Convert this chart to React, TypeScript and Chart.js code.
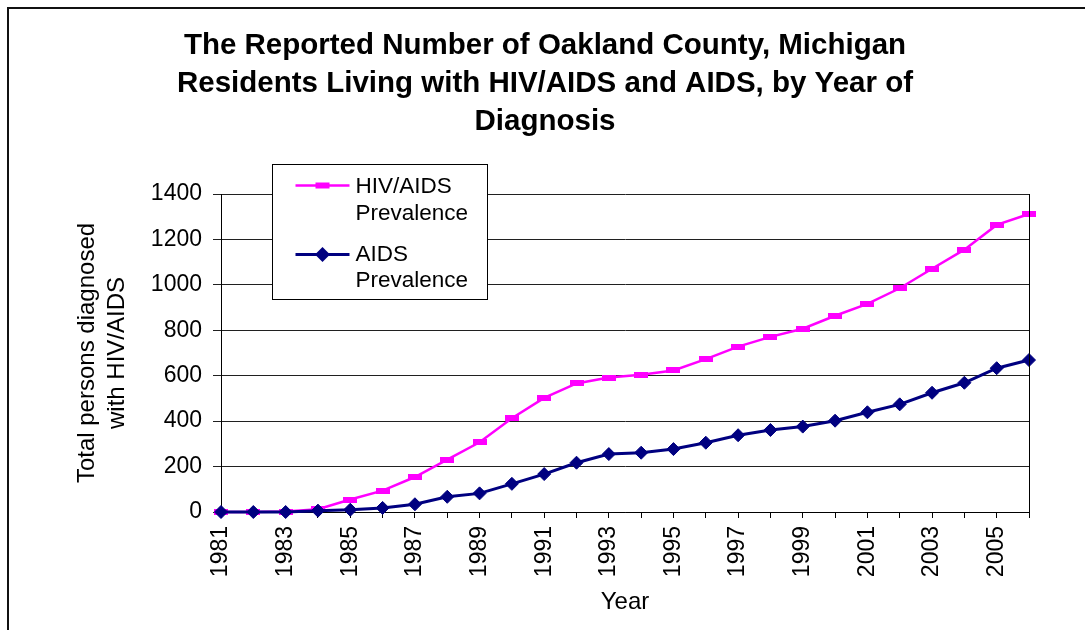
import React, { useEffect, useRef } from 'react';
import { Chart, registerables } from 'chart.js';

Chart.register(...registerables);

const FONT = 'Arial, "Liberation Sans", Helvetica, sans-serif';

const TITLE_LINES = [
  'The Reported Number of Oakland County, Michigan',
  'Residents Living with HIV/AIDS and AIDS, by Year of',
  'Diagnosis',
];
const Y_TITLE_LINES = ['Total persons diagnosed', 'with HIV/AIDS'];
const X_TITLE = 'Year';

const YEARS = [
  '1981', '1982', '1983', '1984', '1985', '1986', '1987', '1988', '1989', '1990',
  '1991', '1992', '1993', '1994', '1995', '1996', '1997', '1998', '1999', '2000',
  '2001', '2002', '2003', '2004', '2005', '2006',
];

const HIV_AIDS_PREVALENCE = [
  0, 0, 2, 12, 55, 94, 154, 231, 307, 413,
  502, 566, 592, 604, 623, 673, 728, 771, 807, 864,
  916, 985, 1071, 1155, 1264, 1312,
];

const AIDS_PREVALENCE = [
  0, 0, 0, 6, 10, 18, 34, 67, 82, 124,
  167, 217, 255, 261, 277, 305, 338, 361, 376, 402,
  439, 474, 525, 569, 633, 669,
];

const HIV_LEGEND_LINES = ['HIV/AIDS', 'Prevalence'];
const AIDS_LEGEND_LINES = ['AIDS', 'Prevalence'];

const Y_MIN = 0;
const Y_MAX = 1400;
const Y_STEP = 200;

const PINK = '#FF00FF';
const NAVY = '#000080';

export default function App() {
  const ref = useRef<HTMLCanvasElement>(null);

  useEffect(() => {
    const canvas = ref.current;
    if (!canvas) return;

    const rectMarker = document.createElement('canvas');
    rectMarker.width = 14;
    rectMarker.height = 6;
    const rc = rectMarker.getContext('2d')!;
    rc.fillStyle = PINK;
    rc.fillRect(0, 0, 14, 6);

    const framePlugin = {
      id: 'framePlugin',
      beforeDraw(chart: any) {
        const { ctx } = chart;
        ctx.save();
        ctx.fillStyle = '#ffffff';
        ctx.fillRect(0, 0, chart.width, chart.height);
        ctx.strokeStyle = '#111111';
        ctx.lineWidth = 2;
        ctx.beginPath();
        ctx.moveTo(8, chart.height + 5);
        ctx.lineTo(8, 8);
        ctx.lineTo(chart.width + 5, 8);
        ctx.stroke();
        ctx.restore();
      },
      afterDraw(chart: any) {
        const { ctx, chartArea } = chart;
        ctx.save();
        // right plot border
        ctx.strokeStyle = '#000000';
        ctx.lineWidth = 1;
        ctx.beginPath();
        const rx = Math.round(chartArea.right) + 0.5;
        ctx.moveTo(rx, chartArea.top);
        ctx.lineTo(rx, chartArea.bottom);
        ctx.stroke();

        // legend box
        const bx = Math.round(chartArea.left) + 51.5;
        const by = Math.round(chartArea.top) - 29.5;
        const bw = 215;
        const bh = 135;
        ctx.fillStyle = '#ffffff';
        ctx.fillRect(bx, by, bw, bh);
        ctx.strokeStyle = '#000000';
        ctx.lineWidth = 1;
        ctx.strokeRect(bx, by, bw, bh);

        const lx0 = bx + 23;
        const lx1 = bx + 77;
        const mx = (lx0 + lx1) / 2;
        const y1 = by + 21;
        const y2 = by + 90;

        // HIV/AIDS entry
        ctx.strokeStyle = PINK;
        ctx.lineWidth = 2.5;
        ctx.beginPath();
        ctx.moveTo(lx0, y1);
        ctx.lineTo(lx1, y1);
        ctx.stroke();
        ctx.fillStyle = PINK;
        ctx.fillRect(mx - 7, y1 - 3, 14, 6);

        // AIDS entry
        ctx.strokeStyle = NAVY;
        ctx.lineWidth = 3;
        ctx.beginPath();
        ctx.moveTo(lx0, y2);
        ctx.lineTo(lx1, y2);
        ctx.stroke();
        ctx.fillStyle = NAVY;
        ctx.beginPath();
        ctx.moveTo(mx - 7.5, y2);
        ctx.lineTo(mx, y2 - 7.5);
        ctx.lineTo(mx + 7.5, y2);
        ctx.lineTo(mx, y2 + 7.5);
        ctx.closePath();
        ctx.fill();

        ctx.fillStyle = '#000000';
        ctx.font = `22.5px ${FONT}`;
        ctx.textAlign = 'left';
        ctx.textBaseline = 'middle';
        const tx = bx + 83;
        HIV_LEGEND_LINES.forEach((t, i) => ctx.fillText(t, tx, y1 + 1 + i * 27));
        AIDS_LEGEND_LINES.forEach((t, i) => ctx.fillText(t, tx, y2 + i * 26));
        ctx.restore();
      },
    };

    const chart = new Chart(canvas, {
      type: 'line',
      data: {
        labels: YEARS,
        datasets: [
          {
            label: 'HIV/AIDS Prevalence',
            data: HIV_AIDS_PREVALENCE,
            borderColor: PINK,
            backgroundColor: PINK,
            borderWidth: 2.5,
            pointStyle: rectMarker as any,
            pointRadius: 5,
            tension: 0,
            clip: false as any,
            order: 1,
          },
          {
            label: 'AIDS Prevalence',
            data: AIDS_PREVALENCE,
            borderColor: NAVY,
            backgroundColor: NAVY,
            borderWidth: 3,
            pointStyle: 'rectRot',
            pointRadius: 6.5,
            pointBorderWidth: 1,
            pointBorderColor: NAVY,
            pointBackgroundColor: NAVY,
            tension: 0,
            clip: false as any,
            order: 0,
          },
        ],
      },
      options: {
        responsive: false,
        animation: false,
        devicePixelRatio: 1,
        layout: { padding: { left: 61, right: 56, top: 0, bottom: 0 } },
        plugins: {
          legend: { display: false },
          tooltip: { enabled: false },
          title: {
            display: true,
            text: TITLE_LINES,
            color: '#000000',
            font: { family: FONT, size: 29.5, weight: 'bold', lineHeight: '38px' as any },
            padding: { top: 27, bottom: 53 },
          },
        },
        scales: {
          x: {
            type: 'category',
            offset: false,
            grid: {
              display: true,
              drawOnChartArea: false,
              drawTicks: true,
              tickLength: 6,
              color: '#000000',
            },
            border: { display: true, color: '#000000', width: 1 },
            ticks: {
              autoSkip: false,
              maxRotation: 90,
              minRotation: 90,
              padding: 8,
              color: '#000000',
              font: { family: FONT, size: 23 },
              callback: function (this: any, value: any, index: number) {
                return index % 2 === 0 ? this.getLabelForValue(value) : '';
              },
            },
            title: {
              display: true,
              text: X_TITLE,
              color: '#000000',
              font: { family: FONT, size: 24, lineHeight: '26px' as any },
              padding: { top: 0, bottom: 15 },
            },
            afterFit(scale: any) {
              scale.height = 118;
            },
          },
          y: {
            min: Y_MIN,
            max: Y_MAX,
            ticks: {
              stepSize: Y_STEP,
              padding: 11,
              color: '#000000',
              font: { family: FONT, size: 23 },
              callback: (value: any) => String(value),
            },
            grid: { color: '#202020', tickLength: 8, drawTicks: true },
            border: { display: true, color: '#000000', width: 1 },
            title: {
              display: true,
              text: Y_TITLE_LINES,
              color: '#000000',
              font: { family: FONT, size: 24, lineHeight: '30px' as any },
              padding: { top: 11.5, bottom: 0 },
            },
            afterFit(scale: any) {
              scale.width = 160;
            },
          },
        },
      } as any,
      plugins: [framePlugin],
    });

    return () => chart.destroy();
  }, []);

  return (
    <div style={{ position: 'absolute', left: 0, top: 0, width: 1085, height: 630 }}>
      <canvas ref={ref} width={1085} height={630} style={{ display: 'block' }} />
    </div>
  );
}
